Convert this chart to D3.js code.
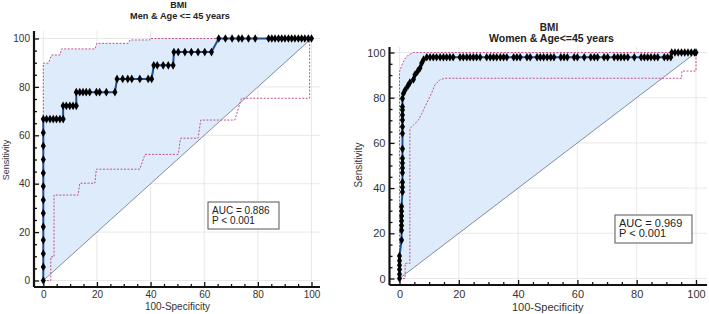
<!DOCTYPE html>
<html>
<head>
<meta charset="utf-8">
<script src="https://cdn.jsdelivr.net/npm/d3@7"></script>
<style>
  body { margin: 0; background: #fff; }
  svg { display: block; font-family: "Liberation Sans", Arial, sans-serif; }
</style>
</head>
<body>
<script>
// ROC data (x = 100-Specificity, y = Sensitivity)
var titles = [["BMI", "Men & Age <= 45 years"], ["BMI", "Women & Age<=45 years"]];
var aucLabels = [["AUC = 0.886", "P < 0.001"], ["AUC = 0.969", "P < 0.001"]];
var majorTicks = [0, 20, 40, 60, 80, 100];
var minorTicks = [5, 10, 15, 25, 30, 35, 45, 50, 55, 65, 70, 75, 85, 90, 95];

var menRoc = [
  [0,0],[0,5.6],[0,11.1],[0,16.7],[0,22.2],[0,27.8],[0,33.3],[0,38.9],[0,44.4],[0,50],[0,55.6],[0,61.1],[0,66.7],
  [1.2,66.7],[2.5,66.7],[3.7,66.7],[4.9,66.7],[6.2,66.7],[7.4,66.7],
  [7.4,72.2],[8.6,72.2],[9.9,72.2],[11.1,72.2],[12.3,72.2],
  [12.3,77.8],[13.6,77.8],[14.8,77.8],[16,77.8],[17.3,77.8],[19.8,77.8],[21,77.8],[23.5,77.8],[26.7,77.8],
  [27.5,83.3],[29.6,83.3],[31.5,83.3],[33,83.3],[36,83.3],[39.1,83.3],[40.4,83.3],
  [41.2,88.9],[42.5,88.9],[44.7,88.9],[46.6,88.9],[48.4,88.9],
  [48.7,94.4],[50.3,94.4],[52.8,94.4],[55.2,94.4],[57.7,94.4],[60.2,94.4],[62.7,94.4],
  [65.4,100],[67.9,100],[70.4,100],[72.8,100],[74.1,100],[76.5,100],[79,100],[84,100],[85.2,100],[86.4,100],
  [87.7,100],[88.9,100],[90.1,100],[91.4,100],[92.6,100],[93.8,100],[95.1,100],[96.3,100],[97.5,100],[98.8,100],[100,100]
];
var menUpper = [[0,0],[0,89.8],[1.9,89.8],[3.1,93.2],[6.2,93.2],[6.8,95.7],[19.3,95.7],[19.9,98],[31.7,98],
  [32.3,99.4],[39.7,99.4],[39.7,100],[100,100]];
var menLower = [[0,0],[2.8,0],[2.8,9.8],[4,9.8],[4,35.3],[13,35.3],[13.6,40.2],[19.2,40.2],[19.8,46],[36,46],
  [37.9,52.1],[50.3,52.1],[51.2,58.8],[57.7,58.8],[58.7,66.3],[71.4,66.3],[73.9,75.3],[99.3,75.3],[99.3,100],[100,100]];

var womenRoc = [
  [0,0],[0,1.9],[0,4],[0,5.9],[0,7.8],[0,10],[0.7,17],[0.7,21.3],[0.7,23.4],[0.7,25.5],[0.7,27.7],[0.7,29.8],
  [0.7,31.9],[1,38.3],[1,40.4],[1,42.6],[1,46.8],[1,48.9],[1,51.1],[1,53.2],[1,57.4],[1,64.2],[1,67.2],[1,70.1],
  [1,72.3],[1,74.6],[1,76],[1,79.7],[1.3,81.9],[1.9,83.4],[2.8,85.2],[3.5,86.7],[4.7,88.1],[5.2,90.1],[6.1,91.6],
  [6.9,93.1],[7.5,95.3],[8.1,96.8],[9.2,97.9],
  [10.3,97.9],[11.4,97.9],[12.5,97.9],[13.7,97.9],[14.8,97.9],[15.9,97.9],[17,97.9],[18.1,97.9],[20.4,97.9],
  [21.5,97.9],[22.7,97.9],[23.8,97.9],[24.9,97.9],[26,97.9],[27.2,97.9],[29.4,97.9],[30.6,97.9],[31.7,97.9],
  [32.8,97.9],[34,97.9],[35.1,97.9],[36.2,97.9],[38.5,97.9],[39.6,97.9],[40.7,97.9],[43,97.9],[44.1,97.9],
  [46.4,97.9],[47.5,97.9],[48.6,97.9],[49.8,97.9],[51,97.9],[52.1,97.9],[54.4,97.9],[55.5,97.9],[56.6,97.9],
  [58.9,97.9],[60,97.9],[62.3,97.9],[64.5,97.9],[65.7,97.9],[66.8,97.9],[69,97.9],[70.2,97.9],[72.4,97.9],
  [73.6,97.9],[74.7,97.9],[75.8,97.9],[77,97.9],[79.2,97.9],[81.5,97.9],[82.6,97.9],[83.7,97.9],[84.8,97.9],
  [86,97.9],[87.1,97.9],[89.3,97.9],[90.4,97.9],[91.5,97.9],
  [91.8,100],[92.9,100],[94,100],[95.1,100],[96.2,100],[97.3,100],[98.4,100],[99.5,100],[100,100]
];
var womenUpper = [[0,0],[0,91.5],[0.5,93.5],[1.3,95.9],[2,97.5],[3,98.9],[4.7,100],[100,100]];
var womenLower = [[0,0],[1.9,0],[1.9,6.7],[3.5,6.7],[3.5,66.4],[4.7,67.9],[6.4,70.1],[7.5,73],[8.6,76],[9.7,79],
  [10.8,81.9],[11.9,85.6],[13.5,87.8],[15.2,88.6],[95.2,88.6],[95.2,91.8],[100,91.8],[100,100]];

var svg = d3.select("body").append("svg")
  .attr("width", 709)
  .attr("height", 314);

// panel layouts (pixels)
var panels = [
  { roc: menRoc, upper: menUpper, lower: menLower, title: titles[0], auc: aucLabels[0],
    xr: [43.3, 311.5], yr: [280.5, 38.5], axX: 34, axY: 287, right: 320, top: 31,
    titleY: [8, 18.5], titleX: [178.5, 180], titleSize: [9, 9.2], tickSize: 10, labelSize: 10,
    tickPad: 4, ylabX: 9, ylabY: 160, xlabY: 309.5,
    box: [208, 202, 71, 27], boxSize: 10 },
  { roc: womenRoc, upper: womenUpper, lower: womenLower, title: titles[1], auc: aucLabels[1],
    xr: [399.5, 696], yr: [278.5, 52.5], axX: 389.5, axY: 285, right: 707, top: 47,
    titleY: [31, 42], titleX: [549, 551.5], titleSize: [10, 10.5], tickSize: 11, labelSize: 11,
    tickPad: 5, ylabX: 362, ylabY: 165, xlabY: 311,
    box: [615, 215, 77, 28], boxSize: 11 }
];

panels.forEach(function(p){
  var x = d3.scaleLinear().domain([0, 100]).range(p.xr);
  var y = d3.scaleLinear().domain([0, 100]).range(p.yr);
  var g = svg.append("g");

  // grid
  g.selectAll(".vgrid").data(majorTicks).enter().append("line")
    .attr("x1", function(d){ return x(d); }).attr("x2", function(d){ return x(d); })
    .attr("y1", p.top).attr("y2", p.axY)
    .attr("stroke", "#e2e2e2").attr("stroke-width", 0.8);
  g.selectAll(".hgrid").data(majorTicks).enter().append("line")
    .attr("y1", function(d){ return y(d); }).attr("y2", function(d){ return y(d); })
    .attr("x1", p.axX).attr("x2", p.right)
    .attr("stroke", "#e2e2e2").attr("stroke-width", 0.8);

  var line = d3.line().x(function(d){ return x(d[0]); }).y(function(d){ return y(d[1]); });

  // shaded region: upper CI down to the diagonal
  g.append("path")
    .datum(p.upper)
    .attr("d", line)
    .attr("fill", "#ddebfb")
    .attr("stroke", "none");

  // diagonal reference line
  g.append("line")
    .attr("x1", x(0)).attr("y1", y(0)).attr("x2", x(100)).attr("y2", y(100))
    .attr("stroke", "#6a7282").attr("stroke-width", 0.8);

  // confidence bounds
  [p.upper, p.lower].forEach(function(ci){
    g.append("path").datum(ci)
      .attr("d", line)
      .attr("fill", "none")
      .attr("stroke", "#c0558a")
      .attr("stroke-width", 1)
      .attr("stroke-dasharray", "2,1.5");
  });

  // ROC curve
  g.append("path").datum(p.roc)
    .attr("d", line)
    .attr("fill", "none")
    .attr("stroke", "#1f4f98")
    .attr("stroke-width", 2);

  g.selectAll(".pt").data(p.roc).enter().append("path")
    .attr("d", d3.symbol().type(d3.symbolDiamond).size(22))
    .attr("transform", function(d){ return "translate(" + x(d[0]) + "," + y(d[1]) + ")"; })
    .attr("fill", "#000");

  // axes
  g.append("g").attr("transform", "translate(0," + p.axY + ")")
    .call(d3.axisBottom(x).tickValues(majorTicks).tickSize(-5).tickPadding(p.tickPad));
  g.append("g").attr("transform", "translate(0," + p.axY + ")")
    .call(d3.axisBottom(x).tickValues(minorTicks).tickSize(-3).tickFormat(""));
  g.append("g").attr("transform", "translate(" + p.axX + ",0)")
    .call(d3.axisLeft(y).tickValues(majorTicks).tickSize(-5).tickPadding(4));
  g.append("g").attr("transform", "translate(" + p.axX + ",0)")
    .call(d3.axisLeft(y).tickValues(minorTicks).tickSize(-3).tickFormat(""));

  g.selectAll(".domain").remove();
  g.selectAll(".tick line").attr("stroke", "#111").attr("stroke-width", 1.3);
  g.selectAll(".tick text").attr("font-size", p.tickSize).attr("fill", "#333")
    .attr("font-family", "Liberation Sans, Arial, sans-serif");

  // thick axis lines
  g.append("line").attr("x1", p.axX).attr("x2", p.right).attr("y1", p.axY).attr("y2", p.axY)
    .attr("stroke", "#111").attr("stroke-width", 2.2);
  g.append("line").attr("x1", p.axX).attr("x2", p.axX).attr("y1", p.top).attr("y2", p.axY)
    .attr("stroke", "#111").attr("stroke-width", 2.2);

  // titles
  p.title.forEach(function(t, i){
    g.append("text")
      .attr("x", p.titleX[i]).attr("y", p.titleY[i])
      .attr("text-anchor", "middle")
      .attr("font-weight", "bold")
      .attr("font-size", p.titleSize[i])
      .attr("fill", "#222")
      .text(t);
  });

  // axis labels
  g.append("text")
    .attr("x", (p.xr[0] + p.xr[1]) / 2).attr("y", p.xlabY)
    .attr("text-anchor", "middle")
    .attr("font-size", p.labelSize).attr("fill", "#333")
    .text("100-Specificity");
  g.append("text")
    .attr("transform", "translate(" + p.ylabX + "," + p.ylabY + ") rotate(-90)")
    .attr("text-anchor", "middle")
    .attr("font-size", p.labelSize - 1).attr("fill", "#333")
    .text("Sensitivity");

  // AUC box
  g.append("rect")
    .attr("x", p.box[0]).attr("y", p.box[1]).attr("width", p.box[2]).attr("height", p.box[3])
    .attr("fill", "#fff").attr("stroke", "#555").attr("stroke-width", 1);
  p.auc.forEach(function(t, i){
    g.append("text")
      .attr("x", p.box[0] + 4).attr("y", p.box[1] + 11.5 + i * 10.5)
      .attr("font-size", p.boxSize).attr("fill", "#222")
      .text(t);
  });
});
</script>
</body>
</html>
